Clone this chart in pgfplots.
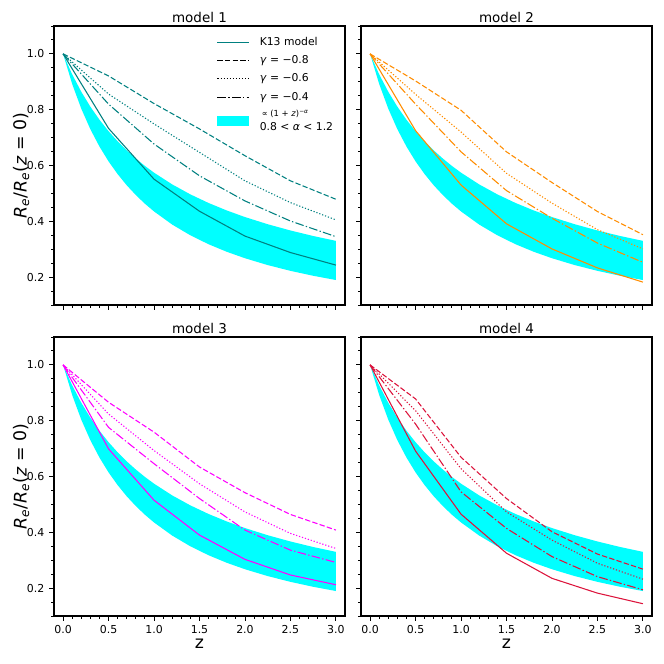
\documentclass[border=0pt]{standalone}
\usepackage{pgfplots}
\pgfplotsset{compat=1.18}
\usepackage{fontspec}
\setmainfont{DejaVu Sans}
\definecolor{cteal}{HTML}{008080}
\definecolor{corange}{HTML}{FF8C00}
\definecolor{cmag}{HTML}{FF00FF}
\definecolor{ccrim}{HTML}{DC143C}
\definecolor{ccyan}{HTML}{00FFFF}
\pgfplotsset{
  panel/.style={
    scale only axis, width=218.25pt, height=209.25pt,
    anchor=south west,
    xmin=-0.1, xmax=3.1, ymin=0.1, ymax=1.1,
    xtick={0,0.5,...,3.0}, ytick={0.2,0.4,...,1.0},
    minor xtick={0,0.1,...,3.01},
    minor ytick={0.1,0.15,...,1.101},
    xtick pos=bottom, ytick pos=left, tick align=outside,
    major tick length=3.5pt, minor tick length=2pt,
    every tick/.style={black, line width=0.7pt},
    axis line style={line width=0.9pt},
    xticklabel style={/pgf/number format/.cd, fixed, fixed zerofill, precision=1, assume math mode=true},
    yticklabel style={/pgf/number format/.cd, fixed, fixed zerofill, precision=1, assume math mode=true},
    tick label style={font=\fontsize{8.2}{10}\selectfont},
    title style={font=\fontsize{10.1}{12}\selectfont, yshift=-7pt},
    label style={font=\fontsize{13}{15}\selectfont},
    xlabel style={yshift=3pt},
    ylabel style={at={(axis description cs:-0.112,0.5)}, anchor=center},
    line width=0.8pt,
    legend image code/.code={\draw[#1] plot coordinates {(0cm,0cm) (0.82cm,0cm)};},
  },
  dsh/.style={dash pattern=on 4pt off 1.7pt},
  dtt/.style={dash pattern=on 0.9pt off 1.4pt},
  dds/.style={dash pattern=on 6.5pt off 1.7pt on 1pt off 1.7pt},
  band/.style={fill=ccyan, draw=none, forget plot},
}
\newcommand{\bandplot}{%
\addplot[band] coordinates {
(0,1) (0.1,0.9266) (0.2,0.8643) (0.3,0.8107) (0.4,0.7640) (0.5,0.7230) (0.6,0.6866) (0.7,0.6541) (0.8,0.6249) (0.9,0.5984) (1.0,0.5743) (1.2,0.5322) (1.4,0.4964) (1.6,0.4656) (1.8,0.4388) (2.0,0.4152) (2.25,0.3895) (2.5,0.3671) (2.75,0.3473) (3.0,0.3299)
(3.0,0.1895) (2.75,0.2047) (2.5,0.2224) (2.25,0.2431) (2.0,0.2676) (1.8,0.2907) (1.6,0.3177) (1.4,0.3497) (1.2,0.3882) (1.0,0.4353) (0.9,0.4629) (0.8,0.4940) (0.7,0.5290) (0.6,0.5690) (0.5,0.6147) (0.4,0.6678) (0.3,0.7299) (0.2,0.8035) (0.1,0.8919) (0,1)} -- cycle;}
\begin{document}
\begin{tikzpicture}
\useasboundingbox (0,0) rectangle (498pt,498pt);
% model 1
\begin{axis}[panel, at={(40.5pt,269.25pt)}, title={model 1}, xticklabels={},
  ylabel={\textit{R}\textsubscript{\textit{e}}/\textit{R}\textsubscript{\textit{e}}(\textit{z} = 0)},
  legend style={draw=none, fill=none, at={(0.97,0.972)}, anchor=north east, font=\fontsize{8.1}{9}\selectfont, row sep=2.2pt, column sep=6pt, inner sep=0pt},
  legend cell align=left]
\bandplot
\addplot[cteal, forget plot] coordinates {(0,1) (0.5,0.733) (1,0.551) (1.5,0.436) (2,0.347) (2.5,0.288) (3,0.243)};
\addplot[cteal, dsh, forget plot] coordinates {(0,1) (0.5,0.921) (1,0.822) (1.5,0.731) (2,0.635) (2.5,0.545) (3,0.479)};
\addplot[cteal, dtt, forget plot] coordinates {(0,1) (0.5,0.856) (1,0.749) (1.5,0.647) (2,0.545) (2.5,0.467) (3,0.405)};
\addplot[cteal, dds, forget plot] coordinates {(0,1) (0.5,0.820) (1,0.677) (1.5,0.563) (2,0.473) (2.5,0.401) (3,0.345)};
\addlegendimage{cteal, line width=0.8pt}
\addlegendentry{K13 model}
\addlegendimage{black, dsh, line width=0.8pt}
\addlegendentry{\textit{γ} = −0.8}
\addlegendimage{black, dtt, line width=0.8pt}
\addlegendentry{\textit{γ} = −0.6}
\addlegendimage{black, dds, line width=0.8pt}
\addlegendentry{\textit{γ} = −0.4}
\addlegendimage{legend image code/.code={\fill[ccyan] (0cm,-3.5pt) rectangle (0.82cm,3.5pt);}}
\addlegendentry{\shortstack[l]{\hspace{1.5pt}{\fontsize{6.3}{7}\selectfont ∝ (1 + \textit{z})\textsuperscript{−\textit{α}}}\\0.8 < \textit{α} < 1.2}}
\end{axis}
% model 2
\begin{axis}[panel, at={(270.75pt,269.25pt)}, title={model 2}, xticklabels={}, yticklabels={}]
\bandplot
\addplot[corange] coordinates {(0,1) (0.5,0.725) (1,0.530) (1.5,0.391) (2,0.301) (2.5,0.233) (3,0.182)};
\addplot[corange, dsh] coordinates {(0,1) (0.5,0.903) (1,0.798) (1.5,0.649) (2,0.539) (2.5,0.435) (3,0.352)};
\addplot[corange, dtt] coordinates {(0,1) (0.5,0.855) (1,0.720) (1.5,0.572) (2,0.465) (2.5,0.370) (3,0.301)};
\addplot[corange, dds] coordinates {(0,1) (0.5,0.820) (1,0.649) (1.5,0.510) (2,0.411) (2.5,0.322) (3,0.253)};
\end{axis}
% model 3
\begin{axis}[panel, at={(40.5pt,36pt)}, title={model 3}, xlabel={z},
  ylabel={\textit{R}\textsubscript{\textit{e}}/\textit{R}\textsubscript{\textit{e}}(\textit{z} = 0)}]
\bandplot
\addplot[cmag] coordinates {(0,1) (0.5,0.699) (1,0.515) (1.5,0.390) (2,0.303) (2.5,0.247) (3,0.212)};
\addplot[cmag, dsh] coordinates {(0,1) (0.5,0.866) (1,0.759) (1.5,0.634) (2,0.542) (2.5,0.464) (3,0.408)};
\addplot[cmag, dtt] coordinates {(0,1) (0.5,0.824) (1,0.693) (1.5,0.574) (2,0.473) (2.5,0.396) (3,0.342)};
\addplot[cmag, dds] coordinates {(0,1) (0.5,0.776) (1,0.646) (1.5,0.521) (2,0.408) (2.5,0.336) (3,0.292)};
\end{axis}
% model 4
\begin{axis}[panel, at={(270.75pt,36pt)}, title={model 4}, xlabel={z}, yticklabels={}]
\bandplot
\addplot[ccrim] coordinates {(0,1) (0.5,0.691) (1,0.465) (1.5,0.325) (2,0.235) (2.5,0.182) (3,0.144)};
\addplot[ccrim, dsh] coordinates {(0,1) (0.5,0.878) (1,0.669) (1.5,0.521) (2,0.402) (2.5,0.322) (3,0.268)};
\addplot[ccrim, dtt] coordinates {(0,1) (0.5,0.836) (1,0.628) (1.5,0.473) (2,0.372) (2.5,0.289) (3,0.232)};
\addplot[ccrim, dds] coordinates {(0,1) (0.5,0.788) (1,0.545) (1.5,0.414) (2,0.313) (2.5,0.241) (3,0.194)};
\end{axis}
\end{tikzpicture}
\end{document}
